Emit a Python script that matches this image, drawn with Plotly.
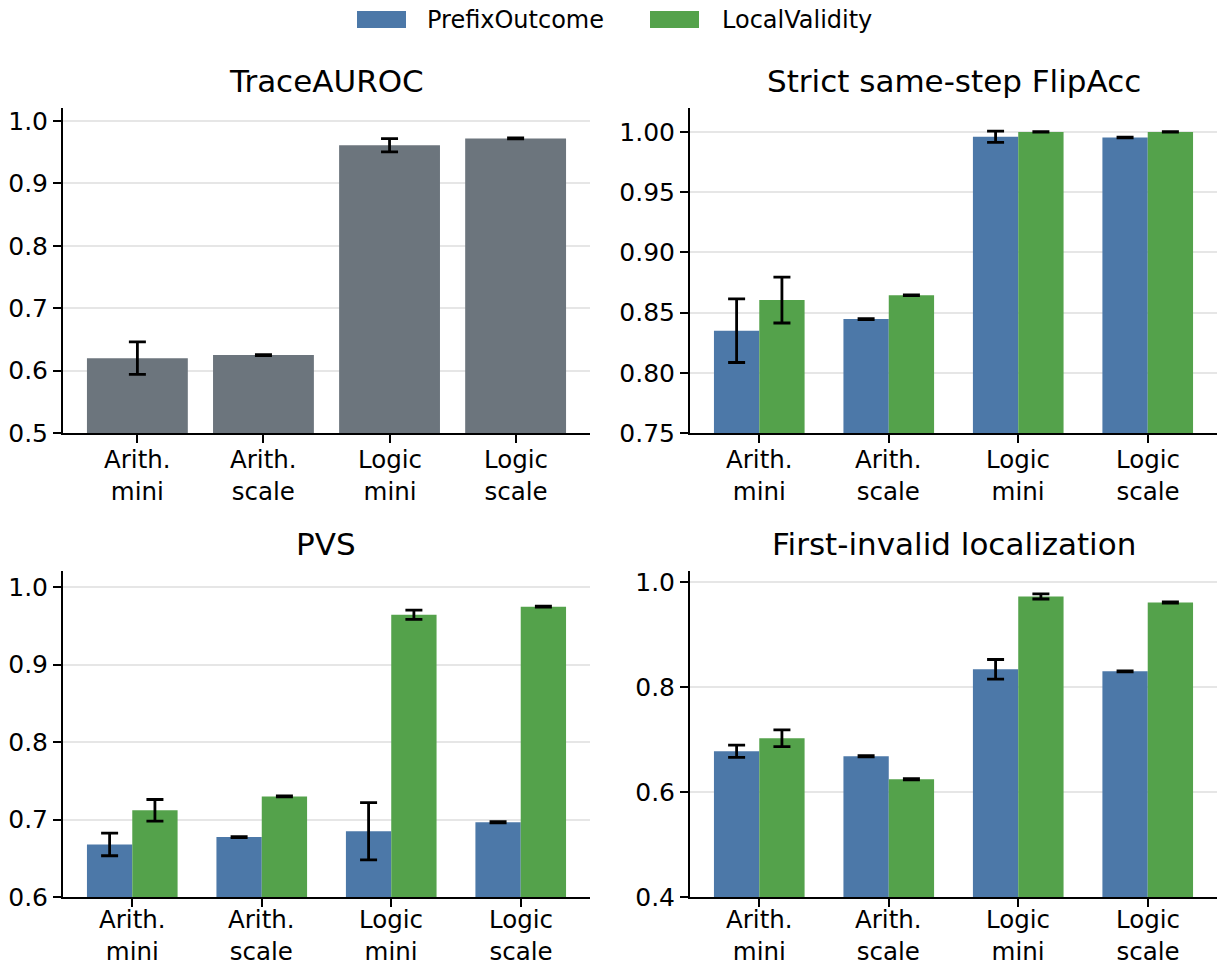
import plotly.graph_objects as go

# ---------------- data ----------------
categories = ["Arith.<br>mini", "Arith.<br>scale", "Logic<br>mini", "Logic<br>scale"]
series_names = ["PrefixOutcome", "LocalValidity"]

trace_auroc = [0.620, 0.625, 0.961, 0.972]
trace_auroc_err = [0.026, 0.0008, 0.0105, 0.0008]

flip_prefix = [0.835, 0.8446, 0.996, 0.9953]
flip_prefix_err = [0.0264, 0.0003, 0.0047, 0.0003]
flip_local = [0.8604, 0.8645, 1.000, 1.000]
flip_local_err = [0.019, 0.0003, 0.0002, 0.0002]

pvs_prefix = [0.668, 0.6775, 0.685, 0.6966]
pvs_prefix_err = [0.0146, 0.0007, 0.037, 0.0007]
pvs_local = [0.712, 0.730, 0.9644, 0.9747]
pvs_local_err = [0.014, 0.0006, 0.006, 0.0006]

loc_prefix = [0.6776, 0.6681, 0.8335, 0.8297]
loc_prefix_err = [0.0117, 0.001, 0.0187, 0.001]
loc_local = [0.7023, 0.6243, 0.9722, 0.9608]
loc_local_err = [0.016, 0.001, 0.0048, 0.001]

titles = ["TraceAUROC", "Strict same-step FlipAcc", "PVS", "First-invalid localization"]

# ---------------- style ----------------
TARGET_W, TARGET_H = 1225, 966
W, H = 1225, 982              # captured page area
SY = H / TARGET_H
GRAY = "#6c757d"
BLUE = "#4c78a8"
GREEN = "#54a24b"
FONT = "DejaVu Sans"
TICK_SIZE = 25
XLABEL_SIZE = 24.5
LEGEND_SIZE = 24
TITLE_SIZE = 31

xs = list(range(len(categories)))

fig = go.Figure()


def px_x(p):
    return p / W


def px_y(p):
    return 1 - (p * SY) / H


def err(vals):
    return dict(type="data", array=vals, visible=True, color="black",
                thickness=2.8, width=8.5)


# panel boxes in target pixels, plus offset of the category labels below the axis
panels = {
    1: dict(x=(63, 590), y=(105, 431), lab=42),
    2: dict(x=(690, 1217), y=(105, 431), lab=42),
    3: dict(x=(63, 590), y=(569, 896), lab=38.5),
    4: dict(x=(690, 1217), y=(569, 896), lab=38.5),
}

# panel 1: single gray bars
fig.add_trace(go.Bar(x=xs, y=trace_auroc, error_y=err(trace_auroc_err),
                     marker_color=GRAY, marker_line_width=0, width=0.8, offset=-0.4,
                     xaxis="x", yaxis="y", showlegend=False))

# grouped panels
grouped = [
    (2, flip_prefix, flip_prefix_err, flip_local, flip_local_err),
    (3, pvs_prefix, pvs_prefix_err, pvs_local, pvs_local_err),
    (4, loc_prefix, loc_prefix_err, loc_local, loc_local_err),
]
for idx, po, po_e, lv, lv_e in grouped:
    xa = "x%d" % idx
    ya = "y%d" % idx
    fig.add_trace(go.Bar(x=xs, y=po, error_y=err(po_e), marker_color=BLUE,
                         marker_line_width=0,
                         width=0.35, offset=-0.35, name=series_names[0],
                         xaxis=xa, yaxis=ya, showlegend=False))
    fig.add_trace(go.Bar(x=xs, y=lv, error_y=err(lv_e), marker_color=GREEN,
                         marker_line_width=0,
                         width=0.35, offset=0.0, name=series_names[1],
                         xaxis=xa, yaxis=ya, showlegend=False))

y_ranges = {1: [0.5, 1.021], 2: [0.75, 1.020], 3: [0.6, 1.021], 4: [0.4, 1.021]}
y_ticks = {1: [0.5, 0.6, 0.7, 0.8, 0.9, 1.0],
           2: [0.75, 0.80, 0.85, 0.90, 0.95, 1.00],
           3: [0.6, 0.7, 0.8, 0.9, 1.0],
           4: [0.4, 0.6, 0.8, 1.0]}
y_fmt = {1: ".1f", 2: ".2f", 3: ".1f", 4: ".1f"}
x_ranges = {1: [-0.59, 3.59], 2: [-0.535, 3.535], 3: [-0.535, 3.535], 4: [-0.535, 3.535]}

layout = dict(
    width=W, height=H,
    margin=dict(l=0, r=0, t=0, b=0),
    paper_bgcolor="white", plot_bgcolor="white",
    barmode="overlay",
    font=dict(family=FONT, size=TICK_SIZE, color="black"),
    showlegend=False,
)

annotations = []
for i in range(1, 5):
    p = panels[i]
    sx = "" if i == 1 else str(i)
    layout["xaxis" + sx] = dict(
        domain=[px_x(p["x"][0]), px_x(p["x"][1])],
        anchor="y" + sx, range=x_ranges[i],
        tickvals=xs, showticklabels=False,
        showline=True, linecolor="black", linewidth=2,
        ticks="outside", ticklen=8, tickwidth=2, tickcolor="black",
        showgrid=False, zeroline=False,
    )
    layout["yaxis" + sx] = dict(
        domain=[px_y(p["y"][1]), px_y(p["y"][0])],
        anchor="x" + sx, range=y_ranges[i],
        tickvals=y_ticks[i], tickformat=y_fmt[i],
        showline=True, linecolor="black", linewidth=2,
        ticks="outside", ticklen=8, tickwidth=2, tickcolor="black",
        showgrid=True, gridcolor="#e6e6e6", gridwidth=1.5,
        zeroline=False,
        tickfont=dict(family=FONT, size=TICK_SIZE, color="black"),
    )
    annotations.append(dict(
        text=titles[i - 1], xref="paper", yref="paper",
        x=px_x((p["x"][0] + p["x"][1]) / 2), y=px_y(p["y"][0] - 27),
        xanchor="center", yanchor="middle", showarrow=False,
        font=dict(family=FONT, size=TITLE_SIZE, color="black"),
    ))
    # two-line category labels at the category positions of the x axis
    for k in xs:
        annotations.append(dict(
            text=categories[k], xref="x" + sx, yref="paper",
            x=k, y=px_y(p["y"][1] + p["lab"]),
            xanchor="center", yanchor="middle", showarrow=False,
            borderpad=0,
            font=dict(family=FONT, size=XLABEL_SIZE, color="black"),
        ))

# legend (drawn manually to mimic wide swatches)
legend_items = [(series_names[0], BLUE, 357, 425), (series_names[1], GREEN, 650, 720)]
shapes = []
for name, col, sx0, tx in legend_items:
    shapes.append(dict(type="rect", xref="paper", yref="paper",
                       x0=px_x(sx0), x1=px_x(sx0 + 49), y0=px_y(25), y1=px_y(8),
                       fillcolor=col, line=dict(width=0)))
    annotations.append(dict(text=name, xref="paper", yref="paper",
                            x=px_x(tx), y=px_y(17), xanchor="left", yanchor="middle",
                            showarrow=False,
                            font=dict(family=FONT, size=LEGEND_SIZE, color="black")))

layout["annotations"] = annotations
layout["shapes"] = shapes
fig.update_layout(**layout)

fig.write_html("out.html", config={"displayModeBar": False},
               post_script="document.body.style.margin='0';")
